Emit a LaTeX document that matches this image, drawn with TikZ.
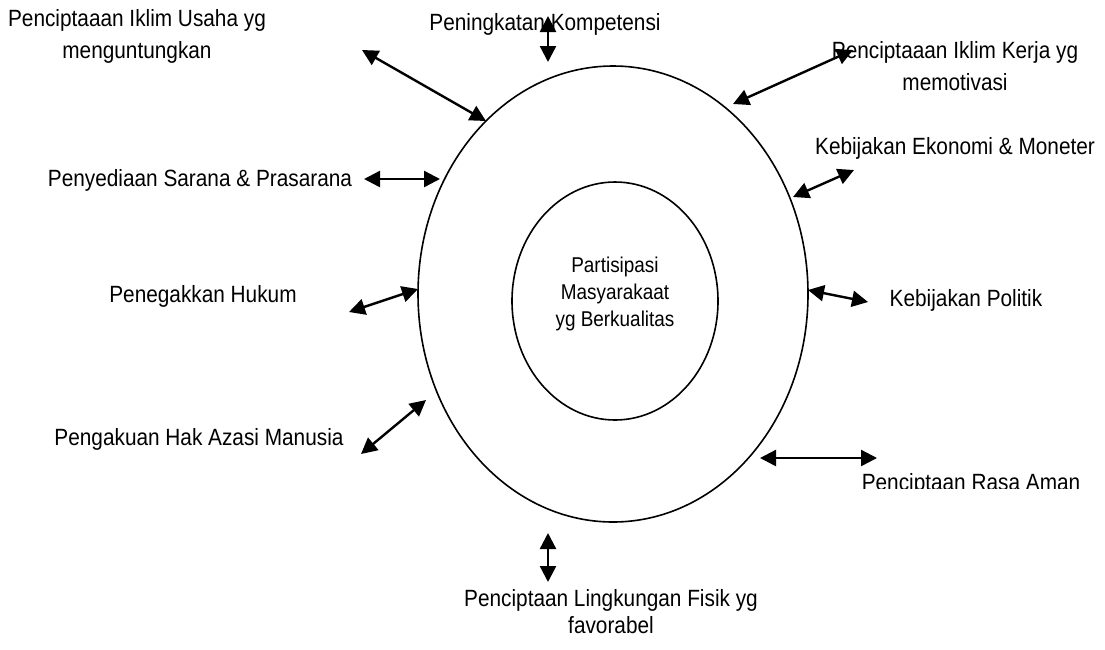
\documentclass[tikz,border=0pt]{standalone}
\usepackage{fontspec}
\setmainfont{Liberation Sans}[FakeStretch=0.885]
\usetikzlibrary{arrows.meta,shapes.geometric}
\tikzset{twoway/.style={{Triangle[length=16pt,width=16pt]}-{Triangle[length=16pt,width=16pt]}, line width=2.4pt},
         lbl/.style={align=center, font=\fontsize{23.5}{32}\selectfont, inner sep=0pt}}

\begin{document}
\begin{tikzpicture}[x=1pt,y=-1pt]
            \useasboundingbox (0,0) rectangle (1105,649);

            \node[draw, ellipse, line width=1.6pt, minimum width=390pt, minimum height=456pt] (outer) at (613,294) {};
            \node[draw, ellipse, line width=1.6pt, minimum width=206pt, minimum height=238pt] (inner) at (615,301) {};
            \node[lbl, font=\fontsize{21.4}{27}\selectfont] (center) at (615,294) {Partisipasi\\Masyarakaat\\yg Berkualitas};

                    \node[lbl] (usaha) at (137,36) {Penciptaaan Iklim Usaha yg\\menguntungkan};
                    \node[lbl] (komp) at (545,24) {Peningkatan Kompetensi};
                    \node[lbl] (kerja) at (955,66) {Penciptaaan Iklim Kerja yg\\memotivasi};
                    \node[lbl] (ekon) at (955,148) {Kebijakan Ekonomi \& Moneter};
                    \node[lbl] (sarana) at (200,180) {Penyediaan Sarana \& Prasarana};
                    \node[lbl] (hukum) at (203,296) {Penegakkan Hukum};
                    \node[lbl] (politik) at (966,300) {Kebijakan Politik};
                    \node[lbl] (ham) at (199,439) {Pengakuan Hak Azasi Manusia};
                    \begin{scope}
                    \clip (850,460) rectangle (1100,488);
                    \node[lbl, anchor=base] (aman) at (971,490) {Penciptaan Rasa Aman};
                    \end{scope}
                    \node[lbl, font=\fontsize{23.5}{27}\selectfont] (fisik) at (611,612) {Penciptaan Lingkungan Fisik yg\\favorabel};

                    \coordinate (u1) at (362,50);   \coordinate (u2) at (486,121);
                    \coordinate (k1) at (548,16);   \coordinate (k2) at (548,62);
                    \coordinate (r1) at (733,104);  \coordinate (r2) at (853,50);
                    \coordinate (e1) at (793,197);  \coordinate (e2) at (854,170);
                    \coordinate (s1) at (364,179);  \coordinate (s2) at (440,179);
                    \coordinate (h1) at (349,312);  \coordinate (h2) at (418,289);
                    \coordinate (p1) at (808,290);  \coordinate (p2) at (868,302);
                    \coordinate (a1) at (361,454);  \coordinate (a2) at (426,400);
                    \coordinate (m1) at (760,458);  \coordinate (m2) at (877,458);
                    \coordinate (f1) at (548,533);  \coordinate (f2) at (548,582);

                    \draw[twoway] (u1) -- (u2);
                    \draw[twoway] (k1) -- (k2);
                    \draw[twoway] (r1) -- (r2);
                    \draw[twoway] (e1) -- (e2);
                    \draw[twoway] (s1) -- (s2);
                    \draw[twoway] (h1) -- (h2);
                    \draw[twoway] (p1) -- (p2);
                    \draw[twoway] (a1) -- (a2);
                    \draw[twoway] (m1) -- (m2);
                    \draw[twoway] (f1) -- (f2);
\end{tikzpicture}
\end{document}
